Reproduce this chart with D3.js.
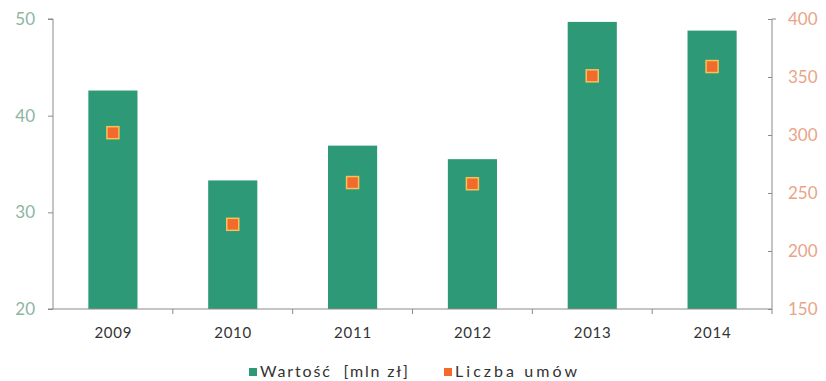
<!DOCTYPE html>
<html>
<head>
<meta charset="utf-8">
<script src="https://cdn.jsdelivr.net/npm/d3@7"></script>
<style>
	body { margin: 0; background: #fff; }
	svg { display: block; font-family: 'Lato', 'DejaVu Sans', sans-serif; }
</style>
</head>
<body>
<svg id="chart" width="826" height="381"></svg>
<script>
const years = ['2009', '2010', '2011', '2012', '2013', '2014'],
	wartosc = [42.6, 33.3, 36.9, 35.5, 49.7, 48.8],
	liczbaUmow = [302, 223, 259, 258, 351, 359],
	leftTicks = [20, 30, 40, 50],
	rightTicks = [150, 200, 250, 300, 350, 400];

const GREEN = '#2e9977',
	ORANGE = '#f26a2c',
	margin = { left: 53, right: 54, top: 19, bottom: 72 },
	width = 826, height = 381;

const svg = d3.select('#chart');

const x = d3.scaleBand()
	.domain(years)
	.range([margin.left, width - margin.right])
	.paddingInner(0.59)
	.paddingOuter(0.295);

const xBand = d3.scaleBand()
	.domain(years)
	.range([margin.left, width - margin.right]);

const yLeft = d3.scaleLinear()
	.domain([20, 50])
	.range([height - margin.bottom, margin.top]);

const yRight = d3.scaleLinear()
	.domain([150, 400])
	.range([height - margin.bottom, margin.top]);

// bars
svg.append('g').selectAll('rect')
	.data(years)
	.join('rect')
	.attr('x', d => x(d))
	.attr('width', x.bandwidth())
	.attr('y', (d, i) => yLeft(wartosc[i]))
	.attr('height', (d, i) => yLeft(20) - yLeft(wartosc[i]))
	.attr('fill', GREEN);

// markers
svg.append('g').selectAll('rect')
	.data(years)
	.join('rect')
	.attr('x', d => xBand(d) + xBand.bandwidth() / 2 - 6)
	.attr('y', (d, i) => yRight(liczbaUmow[i]) - 6)
	.attr('width', 12)
	.attr('height', 12)
	.attr('fill', ORANGE)
	.attr('stroke', '#f4c35a')
	.attr('stroke-width', 1.5);

// x axis (ticks between categories)
const xAxis = svg.append('g')
	.attr('transform', `translate(0,${height - margin.bottom})`);
xAxis.append('line')
	.attr('x1', margin.left - 5).attr('x2', width - margin.right)
	.attr('stroke', '#8a8a8a');
xAxis.selectAll('.sep')
	.data(years.slice(1).concat(['end']))
	.join('line')
	.attr('x1', d => d === 'end' ? width - margin.right : xBand(d))
	.attr('x2', d => d === 'end' ? width - margin.right : xBand(d))
	.attr('y1', 0).attr('y2', 5)
	.attr('stroke', '#8a8a8a');
xAxis.selectAll('text')
	.data(years)
	.join('text')
	.attr('x', d => xBand(d) + xBand.bandwidth() / 2)
	.attr('y', 29)
	.attr('text-anchor', 'middle')
	.attr('font-size', 15)
	.attr('fill', '#333')
	.attr('textLength', 37)
	.attr('lengthAdjust', 'spacing')
	.text(d => d);

// left axis
const gl = svg.append('g')
	.attr('transform', `translate(${margin.left},0)`)
	.call(d3.axisLeft(yLeft).tickValues(leftTicks).tickSize(5).tickPadding(13));
gl.select('.domain').attr('stroke', '#8a8a8a').attr('d', `M-5,${yLeft(50)}H0V${yLeft(20)}`);
gl.selectAll('.tick line').attr('stroke', '#8a8a8a');
gl.selectAll('.tick text').attr('fill', '#8cb5a2').attr('font-size', 17).attr('font-family', 'Lato, sans-serif');

// right axis
const gr = svg.append('g')
	.attr('transform', `translate(${width - margin.right},0)`)
	.call(d3.axisRight(yRight).tickValues(rightTicks).tickSize(-4).tickPadding(16));
gr.select('.domain').attr('stroke', '#8a8a8a').attr('d', `M4,${yRight(400)}H0V${yRight(150)}`);
gr.selectAll('.tick line').attr('stroke', '#8a8a8a');
gr.selectAll('.tick text').attr('fill', '#e9a487').attr('font-size', 17).attr('font-family', 'Lato, sans-serif');

// legend
const legend = [
	{ label: 'Wartość  [mln zł]', color: GREEN, x: 249, w: 148 },
	{ label: 'Liczba umów', color: ORANGE, x: 444, w: 122 }
];
const lg = svg.append('g').selectAll('g')
	.data(legend)
	.join('g')
	.attr('transform', d => `translate(${d.x},377)`);
lg.append('rect')
	.attr('x', 0).attr('y', -9)
	.attr('width', 8).attr('height', 8)
	.attr('fill', d => d.color);
lg.append('text')
	.attr('x', 11).attr('y', 0)
	.attr('font-size', 16)
	.attr('fill', '#333')
	.attr('textLength', d => d.w)
	.attr('lengthAdjust', 'spacing')
	.style('white-space', 'pre')
	.text(d => d.label);
</script>
</body>
</html>
